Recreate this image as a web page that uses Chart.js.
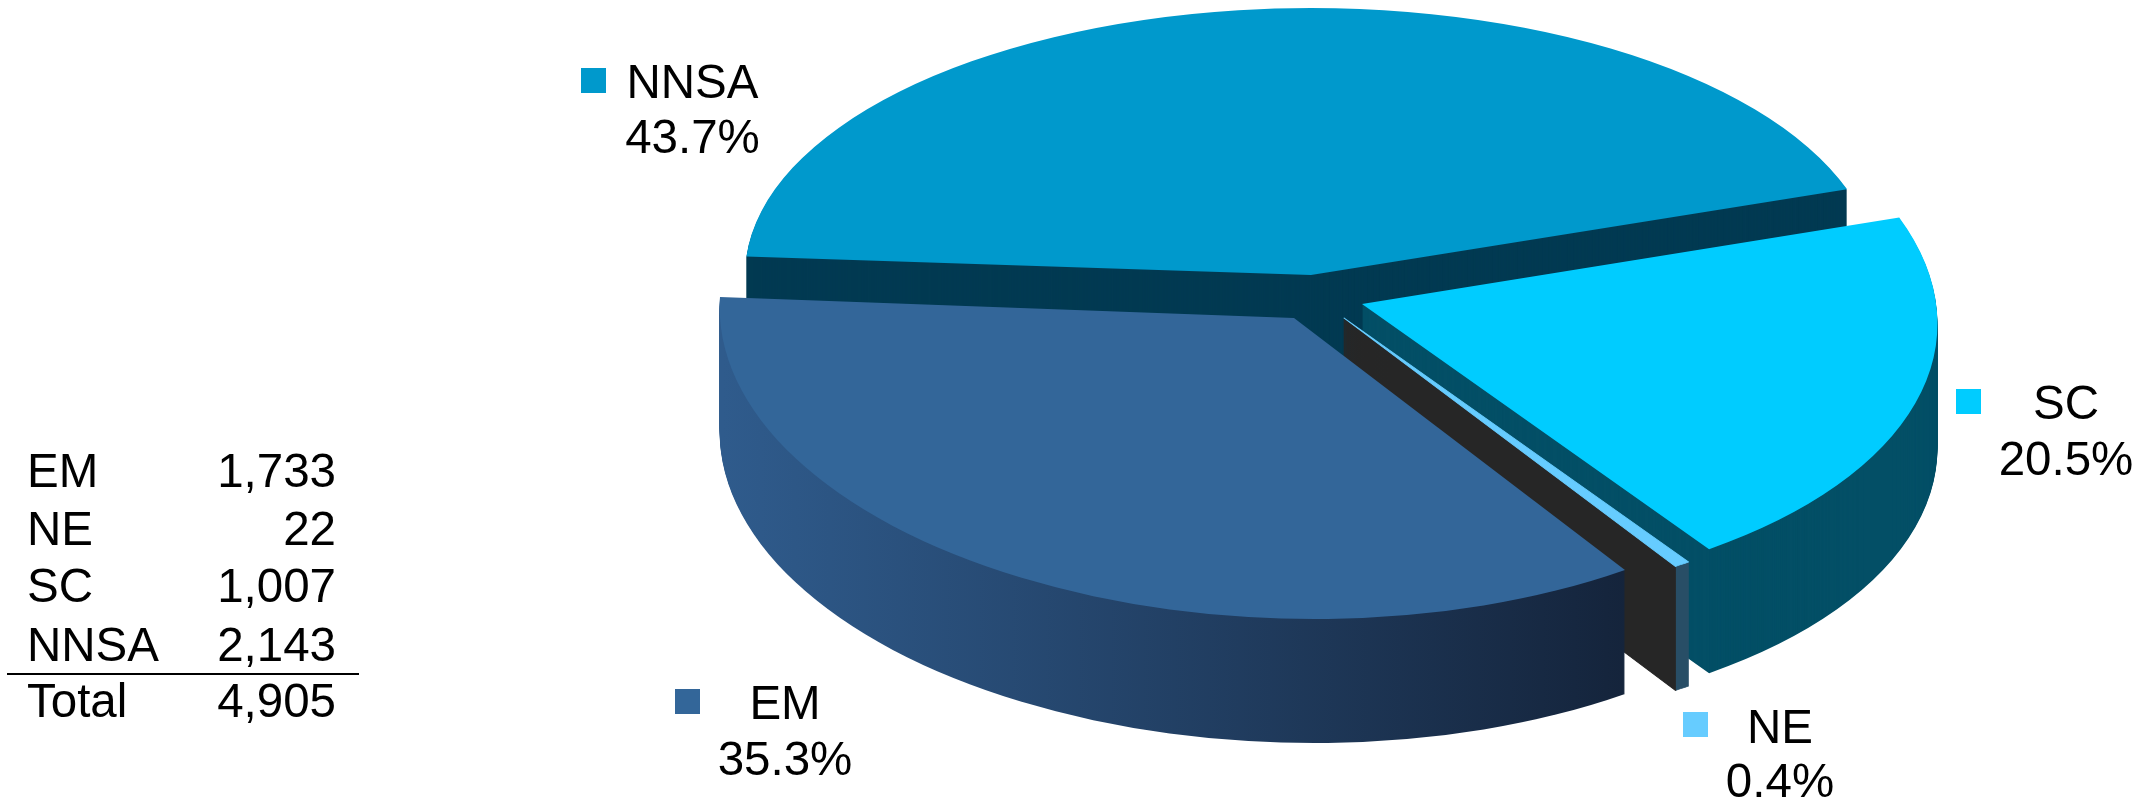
<!DOCTYPE html>
<html>
<head>
<meta charset="utf-8">
<script src="https://cdn.jsdelivr.net/npm/chart.js@4"></script>
<style>
  html, body { margin: 0; background: #fff; }
  #page { position: relative; width: 2149px; height: 802px; overflow: hidden;
          font-family: "Liberation Sans", Arial, sans-serif; font-size: 47.5px; color: #000; }
  #pie { position: absolute; left: 0; top: 0; }
  .txt { position: absolute; line-height: 1; white-space: nowrap; }
  .swatch { position: absolute; width: 25px; height: 25px; }
  #rule { position: absolute; left: 7px; top: 673px; width: 352px; height: 2px; background: #000; }
</style>
</head>
<body>
<div id="page">
  <canvas id="pie" width="2149" height="802"></canvas>
  <div id="rule"></div>
</div>
<script>
// Budget split, clockwise from the left edge of the NNSA slice
const categories = ["NNSA", "SC", "NE", "EM"];
const values = [2143, 1007, 22, 1733];

const topColors = ["#0099cc", "#00ccff", "#66ccff", "#336699"];

// Table rows on the left
const tableNames = ["EM", "NE", "SC", "NNSA"];
const tableValues = [1733, 22, 1007, 2143];
const tableTotalName = "Total";
const tableTotal = 4905;

// How each flat slice lands on the page: apex, then the 2x2 tilt (a k / m b).
// Near slices get a bit more size because the original has perspective.
const sliceViews = [
    { x: 1311, y: 275, a: 566, k: 0, m: 0, b: 267 },
    { x: 1362, y: 304, a: 575, k: 23, m: 8, b: 293 },
    { x: 1344, y: 318, a: 572, k: 22, m: 6, b: 293 },
    { x: 1294, y: 318, a: 574, k: 20, m: 0, b: 301 },
];
const depth = 124;

const page = document.getElementById("page");
const fmt = (n) => n.toLocaleString("en-US");

const addText = (str, x, baseline, align) => {
    const el = document.createElement("div");
    el.className = "txt";
    el.textContent = str;
    // line-height 1 on Liberation Sans puts the baseline about .8465em down
    el.style.top = (baseline - 47.5 * 0.8465) + "px";
    if (align === "right") {
        el.style.right = (2149 - x) + "px";
    } else if (align === "center") {
        el.style.left = x + "px";
        el.style.transform = "translateX(-50%)";
    } else {
        el.style.left = x + "px";
    }
    page.appendChild(el);
};

// Table
const rowBaselines = [487, 545, 602, 661];
tableNames.forEach((name, i) => {
    addText(name, 27, rowBaselines[i], "left");
    addText(fmt(tableValues[i]), 336, rowBaselines[i], "right");
});
addText(tableTotalName, 27, 717, "left");
addText(fmt(tableTotal), 336, 717, "right");

// Slice labels: swatch corner, text centre, two baselines
const labelSpots = [
    { sx: 581, sy: 68, tx: 692.5, b1: 98, b2: 153 },
    { sx: 1956, sy: 389, tx: 2066, b1: 419, b2: 475 },
    { sx: 1683, sy: 712, tx: 1780, b1: 743, b2: 797 },
    { sx: 675, sy: 689, tx: 785, b1: 719, b2: 775 },
];
const total = values.reduce((a, b) => a + b, 0);
categories.forEach((cat, i) => {
    const s = labelSpots[i];
    const sw = document.createElement("div");
    sw.className = "swatch";
    sw.style.left = s.sx + "px";
    sw.style.top = s.sy + "px";
    sw.style.background = topColors[i];
    page.appendChild(sw);
    addText(cat, s.tx, s.b1, "center");
    addText((values[i] / total * 100).toFixed(1) + "%", s.tx, s.b2, "center");
});

// Squash the pie into an ellipse and stack copies of each arc for the side walls.
// The explode comes from sliceViews, not the arc offset option: that option eats
// a fixed arc length off each slice and would leave almost nothing of NE.
const pie3d = {
    id: "pie3d",
    beforeDatasetDraw(chart, args) {
        const ctx = chart.ctx;
        const arcs = args.meta.data;

        const wallFill = (i, arc) => {
            const cat = categories[i];
            const radius = arc.outerRadius;
            if (cat === "NNSA") return "#023a52";
            if (cat === "SC") return "#034f66";
            if (cat === "EM") {
                const v = sliceViews[i];
                const g = ctx.createLinearGradient(
                    arc.x + (721 - v.x) / v.a * radius, 0,
                    arc.x + (1622 - v.x) / v.a * radius, 0
                );
                g.addColorStop(0, "#2f5b8c");
                g.addColorStop(1, "#14233a");
                return g;
            }
            // NE: black cut face, then the small outer cap from the slice corner on
            const corner = arc.x + Math.cos(arc.endAngle) * radius;
            const g = ctx.createLinearGradient(corner - 4, 0, corner + 4, 0);
            g.addColorStop(0.5, "#262626");
            g.addColorStop(0.5, "#284e66");
            return g;
        };

        const drawLayer = (arc, fill, thin) => {
            const layer = Object.create(arc);
            layer.options = {
                backgroundColor: fill,
                borderColor: fill,
                borderWidth: thin ? 0.8 : 0,
                borderRadius: 0,
                borderJoinStyle: "round",
                borderDash: [],
                borderDashOffset: 0,
                circular: true,
                spacing: 0,
                offset: 0,
            };
            layer.draw(ctx);
        };

        // drawn back to front: NNSA, SC, NE, EM
        arcs.forEach((arc, i) => {
            const v = sliceViews[i];
            const radius = arc.outerRadius;
            const wall = wallFill(i, arc);
            // the NE sliver is under a pixel wide near the apex, so give it an outline
            const thin = categories[i] === "NE";
            for (let z = depth; z >= 0; z--) {
                ctx.save();
                ctx.translate(v.x, v.y + z);
                ctx.transform(v.a / radius, v.m / radius, v.k / radius, v.b / radius, 0, 0);
                ctx.translate(-arc.x, -arc.y);
                drawLayer(arc, z === 0 ? topColors[i] : wall, thin);
                ctx.restore();
            }
        });
        return false;
    },
};

new Chart(document.getElementById("pie"), {
    type: "pie",
    plugins: [pie3d],
    data: {
        labels: categories,
        datasets: [
            {
                data: values,
                backgroundColor: topColors,
                borderWidth: 0,
            },
        ],
    },
    options: {
        responsive: false,
        devicePixelRatio: 1,
        animation: false,
        rotation: 274,
        layout: { padding: 0 },
        plugins: {
            legend: { display: false },
            tooltip: { enabled: false },
        },
    },
});
</script>
</body>
</html>
